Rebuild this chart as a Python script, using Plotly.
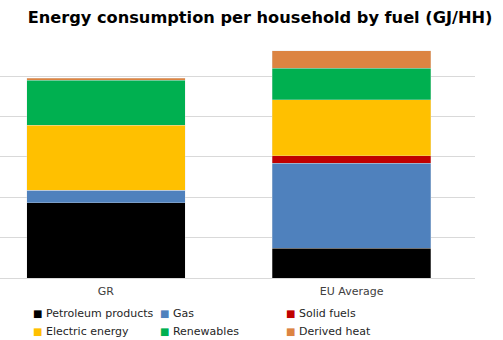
import plotly.graph_objects as go

# Household energy use by fuel, GJ per household
regions = ["GR", "EU Average"]
fuels = ["Petroleum products", "Gas", "Solid fuels",
         "Electric energy", "Renewables", "Derived heat"]
petroleum = [18.7, 7.4]
gas = [3.1, 21.1]
solid = [0.0, 1.8]
electric = [16.1, 13.9]
renewables = [11.1, 7.8]
derived_heat = [0.45, 4.3]

series = [petroleum, gas, solid, electric, renewables, derived_heat]
colors = ["#000000", "#4f81bd", "#c00000", "#ffc000", "#00b050", "#dc8442"]

W, H = 503, 340
M = dict(l=0, r=28, t=44, b=62)
plot_w = W - M["l"] - M["r"]
plot_h = H - M["t"] - M["b"]

fig = go.Figure()
for name, vals, col in zip(fuels, series, colors):
    fig.add_trace(go.Bar(
        name=name, x=regions, y=vals, showlegend=False,
        marker=dict(color=col, line=dict(width=0.3, color="#e0e0e0")),
    ))

# Key below the chart: three columns, two rows, small coloured squares
col_left = [31, 158, 284]
row_mid = [313, 331]
key = []
for i, (name, col) in enumerate(zip(fuels, colors)):
    cx = col_left[i % 3]
    cy = row_mid[i // 3]
    key.append(dict(
        text=f'<span style="color:{col};font-size:10px">■</span> {name}',
        xref="paper", yref="paper",
        x=(cx - M["l"]) / plot_w, y=(H - M["b"] - cy) / plot_h,
        xanchor="left", yanchor="middle", showarrow=False,
        font=dict(family="DejaVu Sans", size=11, color="#262626"),
    ))

fig.update_layout(
    width=W, height=H,
    barmode="stack", bargap=0.355,
    paper_bgcolor="white", plot_bgcolor="white",
    margin=M,
    showlegend=False,
    font=dict(family="DejaVu Sans", size=11, color="#404040"),
    title=dict(
        text="<b>Energy consumption per household by fuel (GJ/HH)</b>",
        font=dict(family="DejaVu Sans", size=16.2, color="#000000"),
        xref="container", yref="container",
        x=0.517, xanchor="center", y=0.95, yanchor="middle",
    ),
    xaxis=dict(
        range=[-0.431, 1.502], showgrid=False,
        showline=False, ticks="", ticklabelstandoff=5,
        tickfont=dict(size=11, color="#404040"),
    ),
    yaxis=dict(
        range=[0, 58], dtick=10, showticklabels=False,
        gridcolor="#d9d9d9", gridwidth=1,
        zeroline=True, zerolinecolor="#d9d9d9", zerolinewidth=1,
        showline=False, ticks="",
    ),
    annotations=key,
)

fig.write_html("out.html")
